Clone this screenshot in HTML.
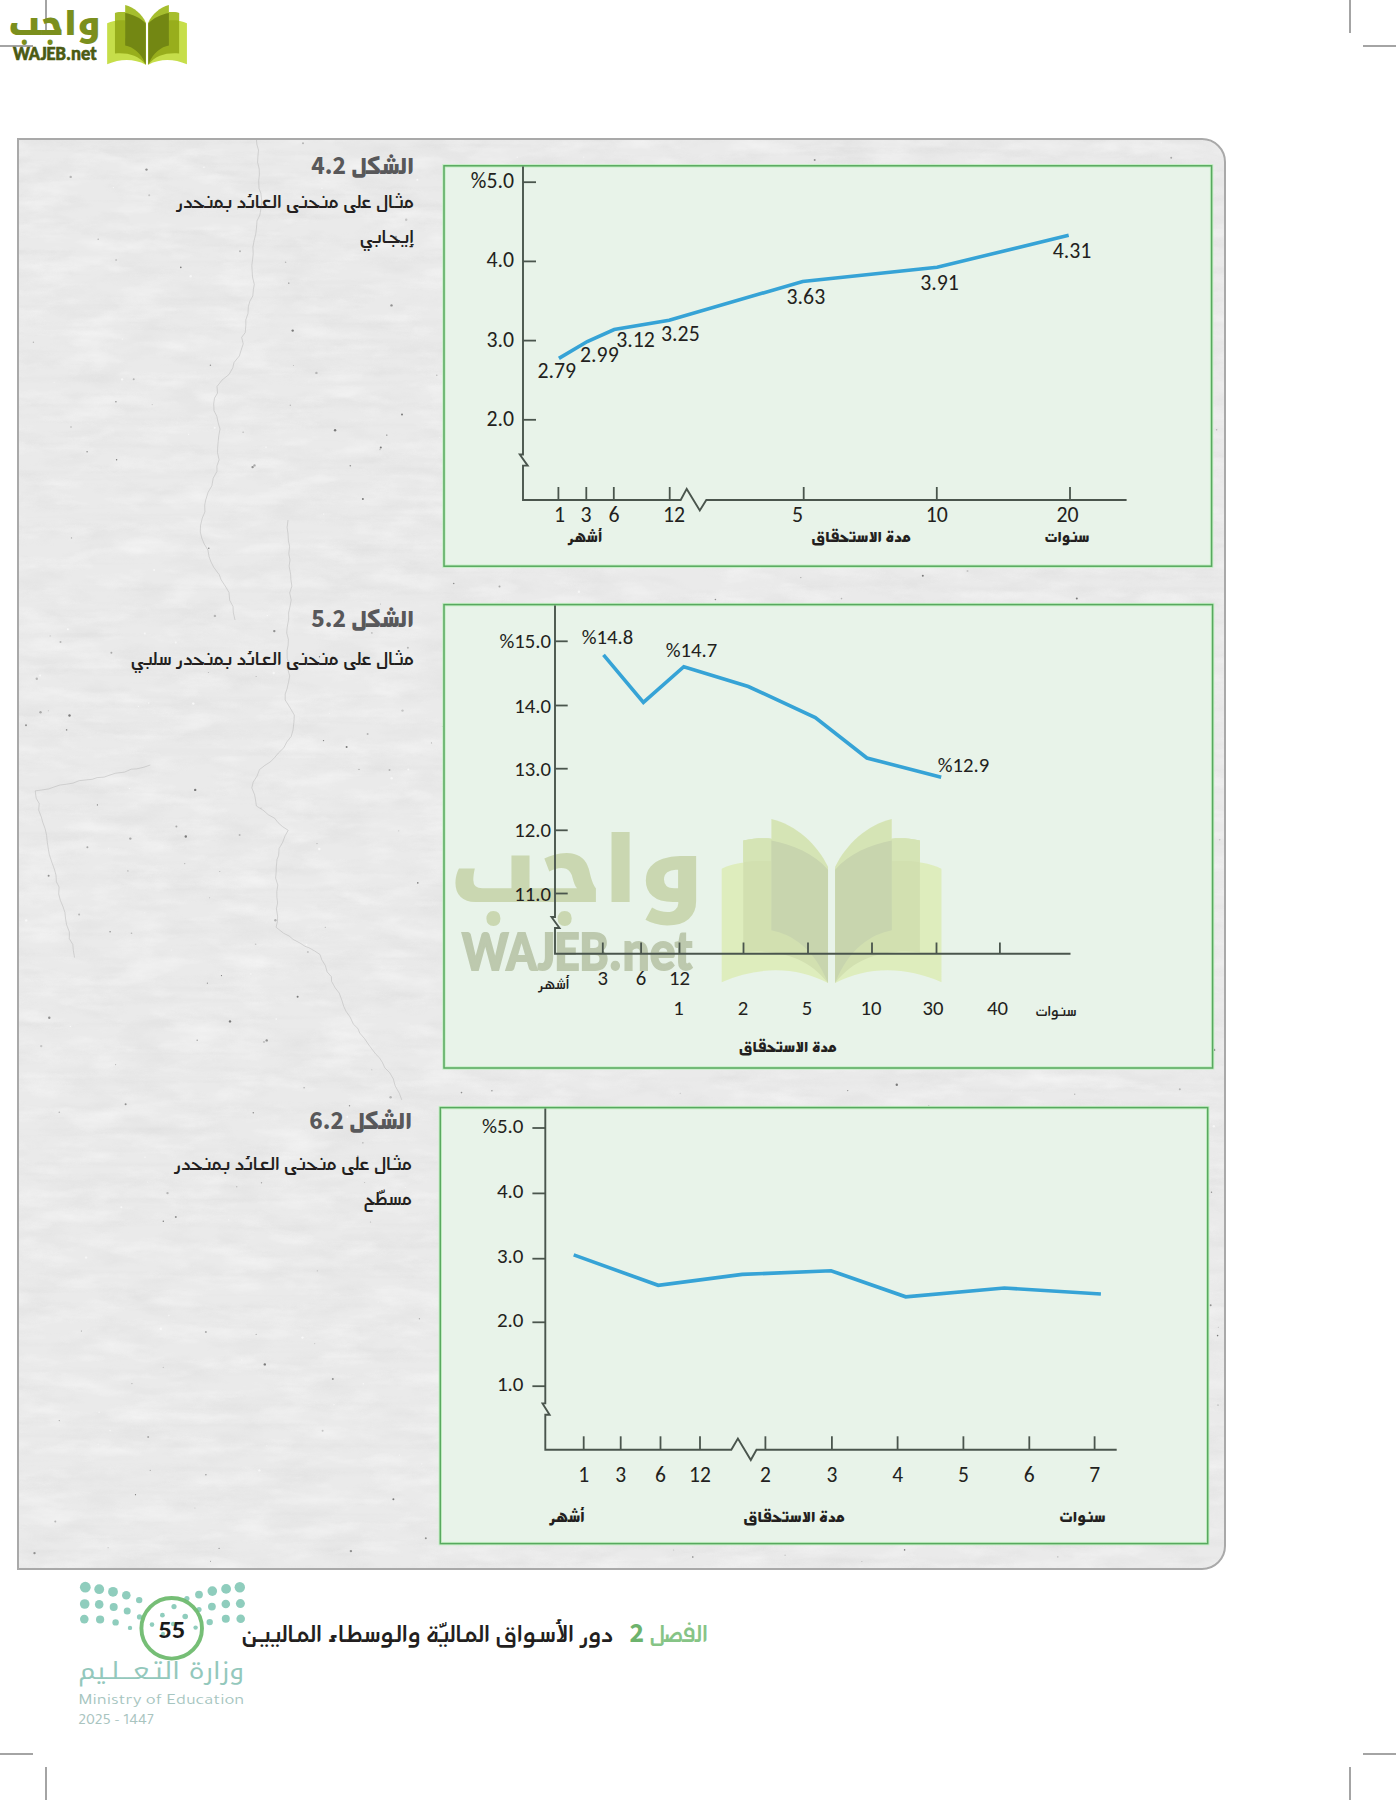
<!DOCTYPE html>
<html lang="ar"><head><meta charset="utf-8"><title>الشكل 4.2</title>
<style>
html,body{margin:0;padding:0;background:#fff;}
body{width:1396px;height:1800px;position:relative;overflow:hidden;}
.abs{position:absolute;}
.crop{position:absolute;background:#a4a4a4;}
.panel{position:absolute;left:17px;top:138px;width:1205px;height:1428px;border:2px solid #a9a9a9;border-radius:0 24px 24px 0;background:#eaeaea;overflow:hidden;}
.cap{position:absolute;right:0;font-family:'Mada','Noto Sans Arabic','DejaVu Sans',sans-serif;direction:rtl;text-align:right;color:#231f20;white-space:nowrap;}
.capt{font-weight:700;color:#58585a;font-size:25.5px;}
.capb{font-size:21.6px;line-height:35px;font-weight:500;}
.foot{position:absolute;font-family:'Mada','Noto Sans Arabic','DejaVu Sans',sans-serif;direction:rtl;white-space:nowrap;}
</style></head><body>
<!-- crop marks -->
<div class="crop" style="left:45px;top:0;width:2px;height:33px"></div>
<div class="crop" style="left:0;top:45px;width:33px;height:2px"></div>
<div class="crop" style="left:1349px;top:0;width:2px;height:33px"></div>
<div class="crop" style="left:1363px;top:45px;width:33px;height:2px"></div>
<div class="crop" style="left:0;top:1753px;width:33px;height:2px"></div>
<div class="crop" style="left:45px;top:1767px;width:2px;height:33px"></div>
<div class="crop" style="left:1363px;top:1753px;width:33px;height:2px"></div>
<div class="crop" style="left:1349px;top:1767px;width:2px;height:33px"></div>

<div class="panel">
<svg width="1205" height="1428" style="position:absolute;left:0;top:0">
<filter id="tex" x="0" y="0" width="100%" height="100%">
<feTurbulence type="fractalNoise" baseFrequency="0.02 0.055" numOctaves="5" seed="7"/>
<feColorMatrix type="matrix" values="0 0 0 0 0.45  0 0 0 0 0.45  0 0 0 0 0.45  1.6 0 0 0 -0.72" />
</filter>
<filter id="tex2" x="0" y="0" width="100%" height="100%">
<feTurbulence type="fractalNoise" baseFrequency="0.02 0.06" numOctaves="4" seed="3"/>
<feColorMatrix type="matrix" values="0 0 0 0 1  0 0 0 0 1  0 0 0 0 1  0 1.6 0 0 -0.75" />
</filter>
<rect width="1205" height="1428" filter="url(#tex)" opacity="0.14"/>
<filter id="tex3" x="0" y="0" width="100%" height="100%">
<feTurbulence type="fractalNoise" baseFrequency="0.004 0.11" numOctaves="3" seed="5"/>
<feColorMatrix type="matrix" values="0 0 0 0 0.55  0 0 0 0 0.55  0 0 0 0 0.55  0 0 1.8 0 -0.95" />
</filter>
<rect width="1205" height="1428" filter="url(#tex2)" opacity="0.55"/>
<rect width="1205" height="1428" filter="url(#tex3)" opacity="0.14"/>
<polyline points="237.4,-2.0 237.8,4.2 239.5,10.1 238.9,16.4 238.6,22.3 240.2,28.9 240.4,34.4 239.7,40.7 240.0,48.3 241.9,53.5 242.9,62.0 242.0,67.7 240.9,75.0 238.0,80.9 237.4,89.0 236.7,94.2 235.1,100.6 233.9,107.1 234.2,113.9 233.6,119.5 232.8,125.3 233.2,131.7 233.5,137.0 235.3,144.4 234.4,149.5 233.8,156.0 230.9,161.1 229.3,166.8 229.0,173.5 226.8,179.8 226.8,185.6 226.2,192.6 222.7,197.3 224.2,203.9 222.2,210.0 220.4,215.9 215.0,222.5 213.8,227.8 210.1,234.4 203.0,240.1 198.0,246.5 198.5,253.1 195.5,258.1 194.7,263.8 195.0,270.7 197.8,276.2 199.2,282.8 201.0,289.0 199.8,295.5 199.2,301.4 198.7,307.0 198.5,312.7 200.1,319.8 197.9,326.0 198.0,331.3 194.2,338.2 192.9,345.7 189.0,352.5 186.7,360.1 185.7,365.2 185.9,371.9 183.3,378.0 181.5,385.6 181.3,392.0 182.8,398.2 185.2,403.9 188.9,410.0 190.1,416.7 192.0,422.0 194.8,427.4 200.3,434.8 202.1,439.7 207.0,447.3 210.0,452.5 210.7,460.3 214.0,466.5 214.3,472.3 216.0,480.0" fill="none" stroke="#b0b0b0" stroke-width="0.9" opacity="0.5"/>
<polyline points="269.0,380.0 268.1,387.6 269.0,393.7 269.4,400.6 270.6,406.3 269.8,413.8 271.0,420.0 270.1,426.1 271.6,434.0 271.9,439.6 272.9,446.1 270.7,452.9 272.2,460.0 271.2,465.7 269.6,472.9 269.7,479.1 268.2,487.2 267.7,493.0 269.4,499.4 269.1,505.4 268.1,510.4 268.2,518.3 270.4,524.5 269.0,530.0 270.7,535.8 269.5,542.3 268.0,548.9 266.2,554.0 266.2,560.0 271.4,568.3 275.3,575.0 274.9,582.5 274.0,590.1 272.2,596.4 267.7,602.1 264.9,607.7 259.5,612.9 255.6,617.6 251.5,621.8 245.8,625.4 240.4,629.7 238.1,636.0 234.2,642.1 232.8,647.9 235.6,654.7 236.5,659.7 237.4,666.0 244.1,670.2 249.4,674.8 255.6,678.2 259.1,682.7 263.4,686.5 269.2,690.3 266.1,695.8 263.6,702.4 260.1,708.5 259.6,715.4 258.0,719.6 257.3,727.0 257.1,732.7 256.6,738.1 258.8,745.1 257.8,751.7 257.9,757.3 258.6,763.0 257.4,768.9 258.6,776.0 258.5,781.0 257.1,787.3 264.7,793.3 270.1,796.0 274.1,799.4 281.1,803.1 286.0,806.3 290.0,807.8 295.7,811.0 301.0,814.5 302.8,819.9 306.4,825.6 308.1,831.9 312.4,836.7 312.6,841.4 316.2,847.9 320.2,853.0 322.8,860.1 324.8,866.6 327.1,871.4 331.2,877.2 334.4,884.2 338.9,888.5 340.7,893.0 345.6,898.7 349.2,904.0 352.5,908.5 356.9,914.3 360.3,917.6 363.4,922.4 365.8,927.8 370.7,932.7 374.3,938.9 376.2,946.0 380.3,953.2 382.8,960.0" fill="none" stroke="#b0b0b0" stroke-width="0.9" opacity="0.5"/>
<polyline points="131.3,625.0 124.9,627.2 117.6,628.9 112.2,629.2 105.6,632.1 96.8,633.2 91.0,635.0 85.1,637.1 78.2,637.6 73.2,639.3 67.2,639.9 60.1,640.7 54.1,643.1 47.6,644.2 41.0,645.0 34.1,647.3 29.8,648.9 22.5,650.0 16.2,650.9 17.2,658.2 20.2,663.5 19.7,670.1 22.4,677.2 23.7,682.1 26.1,688.7 27.6,695.3 28.3,702.4 29.4,709.5 30.4,714.8 32.9,722.5 35.3,729.0 37.0,735.2 37.4,741.8 40.1,747.0 39.7,754.0 41.4,760.5 43.8,766.1 45.9,772.3 46.5,778.2 47.5,784.5 50.4,792.1 50.3,798.6 53.8,804.5 54.3,810.4 55.6,817.6" fill="none" stroke="#b0b0b0" stroke-width="0.9" opacity="0.5"/>
<circle cx="645.0" cy="718.0" r="1.0" fill="#b5b5b5"/>
<circle cx="36.3" cy="1381.5" r="1.0" fill="#b5b5b5"/>
<circle cx="654.7" cy="1409.9" r="0.5" fill="#b5b5b5"/>
<circle cx="114.7" cy="239.3" r="1.0" fill="#b5b5b5"/>
<circle cx="498.7" cy="1363.6" r="0.8" fill="#a8a8a8"/>
<circle cx="298.0" cy="703.6" r="0.7" fill="#b5b5b5"/>
<circle cx="1082.3" cy="1333.5" r="0.8" fill="#c4c4c4"/>
<circle cx="383.0" cy="274.4" r="1.0" fill="#7a7a7a"/>
<circle cx="1111.5" cy="186.2" r="0.5" fill="#7a7a7a"/>
<circle cx="235.5" cy="325.4" r="1.2" fill="#a8a8a8"/>
<circle cx="388.9" cy="507.7" r="1.0" fill="#b5b5b5"/>
<circle cx="128.7" cy="1042.1" r="0.5" fill="#f8f8f8"/>
<circle cx="614.5" cy="358.5" r="0.6" fill="#f6f6f6"/>
<circle cx="638.4" cy="623.5" r="0.8" fill="#f6f6f6"/>
<circle cx="498.3" cy="755.3" r="0.6" fill="#c4c4c4"/>
<circle cx="247.7" cy="900.4" r="1.2" fill="#909090"/>
<circle cx="637.5" cy="1213.3" r="1.0" fill="#c4c4c4"/>
<circle cx="1029.4" cy="333.1" r="1.2" fill="#f6f6f6"/>
<circle cx="974.0" cy="1286.5" r="0.7" fill="#c4c4c4"/>
<circle cx="380.4" cy="1315.1" r="0.6" fill="#f8f8f8"/>
<circle cx="1199.0" cy="1265.0" r="0.6" fill="#909090"/>
<circle cx="161.8" cy="127.4" r="0.8" fill="#7a7a7a"/>
<circle cx="523.9" cy="1341.3" r="1.0" fill="#f8f8f8"/>
<circle cx="847.4" cy="287.5" r="1.2" fill="#f6f6f6"/>
<circle cx="960.0" cy="138.7" r="1.0" fill="#f6f6f6"/>
<circle cx="431.4" cy="1170.2" r="0.7" fill="#7a7a7a"/>
<circle cx="847.2" cy="905.1" r="0.7" fill="#c4c4c4"/>
<circle cx="1199.3" cy="1187.3" r="0.5" fill="#b5b5b5"/>
<circle cx="130.2" cy="55.3" r="1.0" fill="#c4c4c4"/>
<circle cx="619.8" cy="811.3" r="0.6" fill="#909090"/>
<circle cx="224.1" cy="292.2" r="0.6" fill="#a8a8a8"/>
<circle cx="1113.4" cy="137.5" r="0.5" fill="#909090"/>
<circle cx="1142.9" cy="659.5" r="0.5" fill="#a8a8a8"/>
<circle cx="471.3" cy="608.8" r="0.7" fill="#b5b5b5"/>
<circle cx="254.7" cy="533.0" r="1.2" fill="#f6f6f6"/>
<circle cx="52.0" cy="287.0" r="0.8" fill="#b5b5b5"/>
<circle cx="433.8" cy="528.8" r="0.6" fill="#c4c4c4"/>
<circle cx="200.8" cy="731.4" r="0.5" fill="#a8a8a8"/>
<circle cx="1073.0" cy="1142.8" r="1.2" fill="#f8f8f8"/>
<circle cx="1091.7" cy="1339.0" r="1.0" fill="#c4c4c4"/>
<circle cx="231.8" cy="833.9" r="0.7" fill="#f8f8f8"/>
<circle cx="916.3" cy="399.8" r="0.5" fill="#f6f6f6"/>
<circle cx="893.1" cy="229.7" r="0.8" fill="#909090"/>
<circle cx="1077.1" cy="1254.0" r="1.2" fill="#a8a8a8"/>
<circle cx="922.2" cy="1090.9" r="0.8" fill="#909090"/>
<circle cx="868.7" cy="102.4" r="0.7" fill="#a8a8a8"/>
<circle cx="564.7" cy="17.1" r="0.7" fill="#f6f6f6"/>
<circle cx="1084.4" cy="72.5" r="0.7" fill="#f6f6f6"/>
<circle cx="361.0" cy="309.4" r="0.8" fill="#c4c4c4"/>
<circle cx="221.0" cy="111.3" r="1.0" fill="#b5b5b5"/>
<circle cx="772.4" cy="999.9" r="0.8" fill="#c4c4c4"/>
<circle cx="30.3" cy="877.7" r="1.2" fill="#909090"/>
<circle cx="310.4" cy="573.4" r="0.5" fill="#f8f8f8"/>
<circle cx="237.1" cy="536.6" r="0.5" fill="#a8a8a8"/>
<circle cx="303.6" cy="1290.7" r="1.0" fill="#c4c4c4"/>
<circle cx="611.4" cy="1378.2" r="1.0" fill="#f8f8f8"/>
<circle cx="1195.1" cy="909.9" r="1.2" fill="#7a7a7a"/>
<circle cx="661.2" cy="953.2" r="0.5" fill="#b5b5b5"/>
<circle cx="1117.3" cy="229.6" r="0.8" fill="#909090"/>
<circle cx="1028.1" cy="773.2" r="1.0" fill="#7a7a7a"/>
<circle cx="517.6" cy="705.7" r="0.7" fill="#c4c4c4"/>
<circle cx="480.5" cy="446.5" r="1.0" fill="#a8a8a8"/>
<circle cx="581.9" cy="385.9" r="0.7" fill="#f6f6f6"/>
<circle cx="861.5" cy="423.3" r="0.5" fill="#f8f8f8"/>
<circle cx="296.5" cy="62.9" r="0.6" fill="#b5b5b5"/>
<circle cx="907.1" cy="556.9" r="0.7" fill="#f6f6f6"/>
<circle cx="479.5" cy="829.8" r="1.2" fill="#a8a8a8"/>
<circle cx="91.1" cy="1290.6" r="0.8" fill="#f6f6f6"/>
<circle cx="575.2" cy="1386.8" r="0.6" fill="#7a7a7a"/>
<circle cx="630.0" cy="1335.7" r="1.2" fill="#b5b5b5"/>
<circle cx="175.9" cy="1368.0" r="0.6" fill="#c4c4c4"/>
<circle cx="849.3" cy="73.7" r="0.8" fill="#b5b5b5"/>
<circle cx="144.3" cy="1227.4" r="0.7" fill="#c4c4c4"/>
<circle cx="188.4" cy="519.0" r="0.6" fill="#f6f6f6"/>
<circle cx="502.5" cy="857.3" r="1.2" fill="#c4c4c4"/>
<circle cx="820.0" cy="520.0" r="1.2" fill="#c4c4c4"/>
<circle cx="979.5" cy="196.9" r="0.7" fill="#f6f6f6"/>
<circle cx="157.4" cy="686.6" r="1.0" fill="#a8a8a8"/>
<circle cx="942.6" cy="891.3" r="0.7" fill="#a8a8a8"/>
<circle cx="328.3" cy="976.8" r="1.0" fill="#f6f6f6"/>
<circle cx="711.8" cy="902.9" r="0.6" fill="#909090"/>
<circle cx="1143.4" cy="716.6" r="1.2" fill="#909090"/>
<circle cx="1055.8" cy="58.2" r="0.5" fill="#7a7a7a"/>
<circle cx="327.6" cy="607.0" r="1.0" fill="#7a7a7a"/>
<circle cx="125.8" cy="772.8" r="0.5" fill="#f8f8f8"/>
<circle cx="106.6" cy="964.3" r="1.0" fill="#909090"/>
<circle cx="759.1" cy="533.0" r="0.8" fill="#a8a8a8"/>
<circle cx="255.3" cy="491.1" r="1.2" fill="#909090"/>
<circle cx="1007.6" cy="107.8" r="0.5" fill="#b5b5b5"/>
<circle cx="972.4" cy="889.6" r="0.6" fill="#b5b5b5"/>
<circle cx="511.4" cy="369.2" r="0.6" fill="#a8a8a8"/>
<circle cx="186.9" cy="1192.1" r="1.0" fill="#a8a8a8"/>
<circle cx="351.5" cy="1082.0" r="0.6" fill="#b5b5b5"/>
<circle cx="786.3" cy="828.2" r="0.8" fill="#a8a8a8"/>
<circle cx="97.1" cy="120.1" r="1.0" fill="#c4c4c4"/>
<circle cx="583.9" cy="977.2" r="0.7" fill="#f8f8f8"/>
<circle cx="932.1" cy="110.3" r="0.6" fill="#f6f6f6"/>
<circle cx="726.3" cy="991.1" r="0.8" fill="#f6f6f6"/>
<circle cx="918.5" cy="468.7" r="0.6" fill="#909090"/>
<circle cx="431.6" cy="1035.1" r="0.7" fill="#7a7a7a"/>
<circle cx="389.3" cy="629.5" r="1.0" fill="#f6f6f6"/>
<circle cx="1097.2" cy="625.3" r="0.7" fill="#b5b5b5"/>
<circle cx="383.5" cy="570.6" r="1.2" fill="#c4c4c4"/>
<circle cx="300.5" cy="516.7" r="0.7" fill="#7a7a7a"/>
<circle cx="438.2" cy="565.0" r="0.8" fill="#f8f8f8"/>
<circle cx="236.6" cy="804.3" r="0.8" fill="#c4c4c4"/>
<circle cx="188.4" cy="843.2" r="0.6" fill="#909090"/>
<circle cx="110.5" cy="648.6" r="0.7" fill="#f8f8f8"/>
<circle cx="29.6" cy="735.8" r="1.0" fill="#909090"/>
<circle cx="682.8" cy="1377.2" r="1.2" fill="#f8f8f8"/>
<circle cx="966.6" cy="93.2" r="1.0" fill="#a8a8a8"/>
<circle cx="947.1" cy="121.6" r="0.5" fill="#a8a8a8"/>
<circle cx="886.0" cy="1281.4" r="0.5" fill="#7a7a7a"/>
<circle cx="762.7" cy="206.7" r="1.2" fill="#f8f8f8"/>
<circle cx="780.5" cy="351.3" r="0.6" fill="#b5b5b5"/>
<circle cx="919.9" cy="744.2" r="0.8" fill="#b5b5b5"/>
<circle cx="422.8" cy="1150.8" r="0.7" fill="#f6f6f6"/>
<circle cx="166.8" cy="696.5" r="1.2" fill="#7a7a7a"/>
<circle cx="851.4" cy="1304.0" r="0.8" fill="#f8f8f8"/>
<circle cx="992.8" cy="950.8" r="0.5" fill="#f8f8f8"/>
<circle cx="455.8" cy="129.0" r="0.8" fill="#c4c4c4"/>
<circle cx="770.0" cy="747.4" r="1.2" fill="#7a7a7a"/>
<circle cx="964.1" cy="602.0" r="0.8" fill="#909090"/>
<circle cx="297.4" cy="232.9" r="1.2" fill="#b5b5b5"/>
<circle cx="822.5" cy="458.6" r="0.8" fill="#b5b5b5"/>
<circle cx="636.8" cy="392.0" r="0.5" fill="#b5b5b5"/>
<circle cx="372.5" cy="165.4" r="1.2" fill="#909090"/>
<circle cx="932.6" cy="257.3" r="0.5" fill="#f8f8f8"/>
<circle cx="552.6" cy="833.1" r="0.5" fill="#a8a8a8"/>
<circle cx="133.2" cy="264.6" r="0.6" fill="#c4c4c4"/>
<circle cx="285.0" cy="1022.6" r="1.0" fill="#c4c4c4"/>
<circle cx="271.3" cy="265.2" r="0.7" fill="#b5b5b5"/>
<circle cx="209.7" cy="1079.9" r="0.7" fill="#f6f6f6"/>
<circle cx="659.8" cy="1164.8" r="0.8" fill="#f8f8f8"/>
<circle cx="315.0" cy="1264.8" r="0.7" fill="#f6f6f6"/>
<circle cx="658.7" cy="1363.8" r="0.8" fill="#f8f8f8"/>
<circle cx="267.8" cy="72.7" r="0.6" fill="#f8f8f8"/>
<circle cx="959.3" cy="1390.9" r="1.0" fill="#f8f8f8"/>
<circle cx="331.9" cy="1411.1" r="1.2" fill="#909090"/>
<circle cx="1071.9" cy="1245.8" r="0.7" fill="#b5b5b5"/>
<circle cx="957.5" cy="1017.0" r="1.0" fill="#f8f8f8"/>
<circle cx="191.4" cy="225.3" r="0.7" fill="#909090"/>
<circle cx="313.8" cy="1238.9" r="1.0" fill="#909090"/>
<circle cx="766.1" cy="1415.2" r="0.7" fill="#c4c4c4"/>
<circle cx="643.4" cy="216.4" r="0.6" fill="#7a7a7a"/>
<circle cx="247.8" cy="1305.8" r="0.6" fill="#f8f8f8"/>
<circle cx="156.8" cy="502.5" r="1.0" fill="#f6f6f6"/>
<circle cx="635.5" cy="1268.0" r="1.2" fill="#b5b5b5"/>
<circle cx="102.3" cy="1067.3" r="1.0" fill="#f8f8f8"/>
<circle cx="609.2" cy="29.1" r="0.6" fill="#b5b5b5"/>
<circle cx="234.3" cy="972.8" r="0.8" fill="#909090"/>
<circle cx="47.6" cy="589.9" r="0.8" fill="#909090"/>
<circle cx="1137.0" cy="1373.7" r="0.7" fill="#a8a8a8"/>
<circle cx="488.7" cy="793.7" r="0.8" fill="#f6f6f6"/>
<circle cx="859.7" cy="513.9" r="1.2" fill="#909090"/>
<circle cx="129.7" cy="563.0" r="0.8" fill="#f6f6f6"/>
<circle cx="1161.4" cy="1182.7" r="1.2" fill="#b5b5b5"/>
<circle cx="17.8" cy="538.7" r="1.2" fill="#b5b5b5"/>
<circle cx="287.5" cy="804.7" r="0.8" fill="#f8f8f8"/>
<circle cx="15.5" cy="1413.1" r="1.2" fill="#909090"/>
<circle cx="1083.0" cy="218.5" r="1.2" fill="#b5b5b5"/>
<circle cx="1126.1" cy="1068.9" r="0.7" fill="#f8f8f8"/>
<circle cx="472.9" cy="950.7" r="0.7" fill="#909090"/>
<circle cx="242.5" cy="1042.8" r="0.7" fill="#a8a8a8"/>
<circle cx="1135.2" cy="802.9" r="1.2" fill="#f6f6f6"/>
<circle cx="400.3" cy="1178.7" r="0.5" fill="#7a7a7a"/>
<circle cx="171.7" cy="136.3" r="1.2" fill="#f6f6f6"/>
<circle cx="851.5" cy="258.0" r="0.8" fill="#7a7a7a"/>
<circle cx="1005.6" cy="845.5" r="0.5" fill="#7a7a7a"/>
<circle cx="274.4" cy="225.5" r="0.5" fill="#b5b5b5"/>
<circle cx="490.4" cy="105.4" r="0.8" fill="#c4c4c4"/>
<circle cx="169.6" cy="294.4" r="0.6" fill="#f8f8f8"/>
<circle cx="831.2" cy="688.9" r="0.8" fill="#c4c4c4"/>
<circle cx="21.5" cy="572.2" r="1.2" fill="#a8a8a8"/>
<circle cx="1179.4" cy="1125.7" r="1.2" fill="#c4c4c4"/>
<circle cx="637.8" cy="373.0" r="0.6" fill="#a8a8a8"/>
<circle cx="370.5" cy="629.9" r="1.0" fill="#b5b5b5"/>
<circle cx="248.4" cy="475.5" r="0.7" fill="#f8f8f8"/>
<circle cx="126.0" cy="1017.2" r="0.7" fill="#f8f8f8"/>
<circle cx="648.5" cy="426.7" r="0.6" fill="#a8a8a8"/>
<circle cx="736.2" cy="732.6" r="1.0" fill="#f6f6f6"/>
<circle cx="240.4" cy="1330.4" r="1.2" fill="#f6f6f6"/>
<circle cx="1004.0" cy="282.6" r="0.5" fill="#f6f6f6"/>
<circle cx="793.0" cy="1107.1" r="0.6" fill="#909090"/>
<circle cx="575.5" cy="596.1" r="0.7" fill="#a8a8a8"/>
<circle cx="112.9" cy="1243.6" r="0.7" fill="#b5b5b5"/>
<circle cx="1060.8" cy="645.6" r="1.2" fill="#909090"/>
<circle cx="288.9" cy="812.1" r="1.0" fill="#c4c4c4"/>
<circle cx="79.2" cy="1304.2" r="0.6" fill="#f6f6f6"/>
<circle cx="1191.6" cy="1165.3" r="1.0" fill="#909090"/>
<circle cx="149.9" cy="1175.5" r="0.7" fill="#f6f6f6"/>
<circle cx="1077.6" cy="344.7" r="1.0" fill="#a8a8a8"/>
<circle cx="998.2" cy="266.1" r="1.0" fill="#f8f8f8"/>
<circle cx="94.4" cy="47.6" r="0.6" fill="#f8f8f8"/>
<circle cx="1185.4" cy="1338.8" r="1.2" fill="#909090"/>
<circle cx="371.6" cy="957.2" r="1.2" fill="#b5b5b5"/>
<circle cx="740.0" cy="913.2" r="0.5" fill="#909090"/>
<circle cx="242.0" cy="668.0" r="0.6" fill="#c4c4c4"/>
<circle cx="465.9" cy="812.4" r="0.6" fill="#a8a8a8"/>
<circle cx="625.7" cy="377.2" r="1.0" fill="#a8a8a8"/>
<circle cx="67.1" cy="1117.6" r="1.2" fill="#f6f6f6"/>
<circle cx="946.4" cy="575.7" r="0.8" fill="#c4c4c4"/>
<circle cx="125.8" cy="493.6" r="1.0" fill="#f6f6f6"/>
<circle cx="679.6" cy="581.1" r="0.7" fill="#b5b5b5"/>
<circle cx="1068.2" cy="661.6" r="1.2" fill="#b5b5b5"/>
<circle cx="991.5" cy="169.0" r="0.5" fill="#c4c4c4"/>
<circle cx="398.8" cy="742.9" r="0.8" fill="#7a7a7a"/>
<circle cx="387.2" cy="79.8" r="1.2" fill="#c4c4c4"/>
<circle cx="1081.4" cy="1043.6" r="1.0" fill="#a8a8a8"/>
<circle cx="903.8" cy="435.7" r="1.0" fill="#7a7a7a"/>
<circle cx="295.7" cy="1203.6" r="0.6" fill="#c4c4c4"/>
<circle cx="1048.9" cy="1385.9" r="0.8" fill="#f6f6f6"/>
<circle cx="129.2" cy="1296.9" r="1.0" fill="#a8a8a8"/>
<circle cx="789.9" cy="1340.0" r="0.5" fill="#f6f6f6"/>
<circle cx="1160.8" cy="949.3" r="1.0" fill="#b5b5b5"/>
<circle cx="678.6" cy="235.5" r="1.2" fill="#f6f6f6"/>
<circle cx="508.0" cy="176.6" r="0.5" fill="#7a7a7a"/>
<circle cx="625.5" cy="186.9" r="1.0" fill="#c4c4c4"/>
<circle cx="1142.3" cy="2.8" r="0.6" fill="#f6f6f6"/>
<circle cx="361.5" cy="464.1" r="0.5" fill="#b5b5b5"/>
<circle cx="1075.4" cy="1162.4" r="0.8" fill="#909090"/>
<circle cx="430.1" cy="835.2" r="0.5" fill="#a8a8a8"/>
<circle cx="40.3" cy="1280.6" r="0.7" fill="#a8a8a8"/>
<circle cx="600.1" cy="1331.0" r="0.8" fill="#909090"/>
<circle cx="245.8" cy="1224.4" r="1.2" fill="#7a7a7a"/>
<circle cx="237.2" cy="1194.4" r="0.7" fill="#b5b5b5"/>
<circle cx="22.2" cy="906.1" r="1.2" fill="#c4c4c4"/>
<circle cx="245.0" cy="901.9" r="0.6" fill="#7a7a7a"/>
<circle cx="781.8" cy="437.6" r="0.7" fill="#a8a8a8"/>
<circle cx="1044.8" cy="1016.8" r="0.6" fill="#a8a8a8"/>
<circle cx="836.7" cy="1336.5" r="0.8" fill="#b5b5b5"/>
<circle cx="97.6" cy="319.7" r="0.7" fill="#7a7a7a"/>
<circle cx="854.2" cy="281.6" r="0.6" fill="#f6f6f6"/>
<circle cx="285.1" cy="947.7" r="0.7" fill="#a8a8a8"/>
<circle cx="965.9" cy="748.2" r="0.5" fill="#c4c4c4"/>
<circle cx="621.1" cy="1392.5" r="0.6" fill="#f6f6f6"/>
<circle cx="273.7" cy="190.6" r="1.2" fill="#7a7a7a"/>
<circle cx="557.3" cy="110.5" r="1.0" fill="#7a7a7a"/>
<circle cx="638.9" cy="66.5" r="1.0" fill="#c4c4c4"/>
<circle cx="343.9" cy="359.0" r="1.0" fill="#7a7a7a"/>
<circle cx="200.1" cy="1408.4" r="0.6" fill="#909090"/>
<circle cx="217.8" cy="1046.7" r="0.5" fill="#909090"/>
<circle cx="949.9" cy="216.5" r="0.5" fill="#c4c4c4"/>
<circle cx="556.0" cy="1070.1" r="0.8" fill="#7a7a7a"/>
<circle cx="1116.3" cy="713.4" r="0.6" fill="#7a7a7a"/>
<circle cx="669.1" cy="919.8" r="0.7" fill="#a8a8a8"/>
<circle cx="791.6" cy="1116.2" r="1.0" fill="#a8a8a8"/>
<circle cx="608.7" cy="1205.0" r="1.2" fill="#c4c4c4"/>
<circle cx="894.7" cy="758.6" r="1.0" fill="#f8f8f8"/>
<circle cx="926.9" cy="161.5" r="0.8" fill="#909090"/>
<circle cx="803.8" cy="781.6" r="0.7" fill="#f8f8f8"/>
<circle cx="860.9" cy="1028.8" r="0.7" fill="#b5b5b5"/>
<circle cx="654.9" cy="1215.3" r="1.0" fill="#b5b5b5"/>
<circle cx="316.1" cy="290.2" r="1.2" fill="#7a7a7a"/>
<circle cx="689.0" cy="1244.1" r="0.6" fill="#a8a8a8"/>
<circle cx="184.9" cy="27.3" r="0.8" fill="#f8f8f8"/>
<circle cx="523.7" cy="630.5" r="0.7" fill="#f8f8f8"/>
<circle cx="959.6" cy="105.2" r="0.6" fill="#c4c4c4"/>
<circle cx="769.6" cy="826.6" r="1.2" fill="#909090"/>
<circle cx="749.6" cy="78.8" r="0.8" fill="#7a7a7a"/>
<circle cx="836.4" cy="1168.4" r="1.2" fill="#c4c4c4"/>
<circle cx="938.3" cy="1091.0" r="0.8" fill="#7a7a7a"/>
<circle cx="781.8" cy="728.5" r="0.8" fill="#a8a8a8"/>
<circle cx="300.3" cy="709.0" r="1.2" fill="#f8f8f8"/>
<circle cx="716.9" cy="648.8" r="0.7" fill="#b5b5b5"/>
<circle cx="562.3" cy="996.2" r="1.2" fill="#7a7a7a"/>
<circle cx="156.8" cy="1076.9" r="1.0" fill="#909090"/>
<circle cx="176.2" cy="649.9" r="1.2" fill="#7a7a7a"/>
<circle cx="7.0" cy="585.2" r="1.0" fill="#909090"/>
<circle cx="112.5" cy="793.3" r="0.8" fill="#b5b5b5"/>
<circle cx="1123.8" cy="1384.6" r="1.2" fill="#f6f6f6"/>
<circle cx="917.4" cy="1046.6" r="0.6" fill="#a8a8a8"/>
<circle cx="306.3" cy="787.3" r="0.6" fill="#b5b5b5"/>
<circle cx="555.9" cy="1328.9" r="0.7" fill="#a8a8a8"/>
<circle cx="406.8" cy="1398.3" r="1.0" fill="#909090"/>
<circle cx="50.5" cy="575.5" r="1.2" fill="#7a7a7a"/>
<circle cx="886.4" cy="809.4" r="1.0" fill="#909090"/>
<circle cx="557.2" cy="561.1" r="0.6" fill="#b5b5b5"/>
<circle cx="456.7" cy="72.1" r="0.8" fill="#a8a8a8"/>
<circle cx="298.3" cy="1130.8" r="0.6" fill="#b5b5b5"/>
<circle cx="247.0" cy="307.2" r="0.8" fill="#f8f8f8"/>
<circle cx="372.6" cy="638.2" r="1.2" fill="#f6f6f6"/>
<circle cx="220.6" cy="695.1" r="1.0" fill="#b5b5b5"/>
<circle cx="505.2" cy="69.1" r="0.7" fill="#a8a8a8"/>
<circle cx="1139.6" cy="885.6" r="1.0" fill="#909090"/>
<circle cx="891.5" cy="730.8" r="1.0" fill="#f6f6f6"/>
<circle cx="859.8" cy="384.2" r="0.7" fill="#7a7a7a"/>
<circle cx="186.9" cy="1334.8" r="0.7" fill="#909090"/>
<circle cx="920.3" cy="1031.5" r="0.5" fill="#7a7a7a"/>
<circle cx="1198.6" cy="1195.6" r="0.8" fill="#7a7a7a"/>
<circle cx="1026.7" cy="544.7" r="0.7" fill="#f8f8f8"/>
<circle cx="1055.7" cy="954.3" r="0.7" fill="#b5b5b5"/>
<circle cx="731.3" cy="697.0" r="0.6" fill="#909090"/>
<circle cx="618.7" cy="183.6" r="0.6" fill="#a8a8a8"/>
<circle cx="495.0" cy="683.1" r="1.2" fill="#909090"/>
<circle cx="622.3" cy="782.0" r="0.7" fill="#f6f6f6"/>
<circle cx="544.1" cy="538.5" r="0.6" fill="#f8f8f8"/>
<circle cx="338.9" cy="1016.3" r="0.8" fill="#909090"/>
<circle cx="466.0" cy="1234.3" r="0.6" fill="#7a7a7a"/>
<circle cx="352.9" cy="492.9" r="0.6" fill="#909090"/>
<circle cx="51.7" cy="36.9" r="1.2" fill="#b5b5b5"/>
<circle cx="681.0" cy="1152.9" r="1.2" fill="#a8a8a8"/>
<circle cx="794.2" cy="97.2" r="0.6" fill="#c4c4c4"/>
<circle cx="828.7" cy="950.6" r="0.7" fill="#909090"/>
<circle cx="941.4" cy="371.4" r="0.8" fill="#7a7a7a"/>
<circle cx="473.1" cy="87.5" r="0.8" fill="#a8a8a8"/>
<circle cx="343.9" cy="1002.8" r="0.6" fill="#909090"/>
<circle cx="1111.7" cy="289.3" r="0.6" fill="#a8a8a8"/>
<circle cx="799.9" cy="343.2" r="0.5" fill="#f6f6f6"/>
<circle cx="412.5" cy="602.9" r="0.6" fill="#b5b5b5"/>
<circle cx="701.0" cy="1000.1" r="1.0" fill="#a8a8a8"/>
<circle cx="841.8" cy="34.8" r="0.8" fill="#7a7a7a"/>
<circle cx="439.4" cy="91.6" r="0.8" fill="#a8a8a8"/>
<circle cx="68.4" cy="707.2" r="1.0" fill="#a8a8a8"/>
<circle cx="564.8" cy="465.2" r="0.7" fill="#7a7a7a"/>
<circle cx="31.2" cy="495.9" r="0.7" fill="#c4c4c4"/>
<circle cx="359.2" cy="1162.0" r="0.6" fill="#f6f6f6"/>
<circle cx="565.2" cy="877.5" r="0.7" fill="#7a7a7a"/>
<circle cx="693.3" cy="1343.0" r="0.5" fill="#f6f6f6"/>
<circle cx="60.1" cy="774.5" r="1.0" fill="#b5b5b5"/>
<circle cx="79.2" cy="99.2" r="0.8" fill="#b5b5b5"/>
<circle cx="460.5" cy="1296.4" r="0.5" fill="#f8f8f8"/>
<circle cx="165.7" cy="723.6" r="0.7" fill="#b5b5b5"/>
<circle cx="434.8" cy="1392.2" r="0.6" fill="#c4c4c4"/>
<circle cx="233.6" cy="327.1" r="1.2" fill="#909090"/>
<circle cx="284.0" cy="3.3" r="1.0" fill="#b5b5b5"/>
<circle cx="7.2" cy="780.4" r="1.2" fill="#f8f8f8"/>
<circle cx="659.7" cy="890.5" r="1.0" fill="#f8f8f8"/>
<circle cx="830.9" cy="1135.5" r="0.7" fill="#a8a8a8"/>
<circle cx="127.5" cy="29.6" r="1.2" fill="#909090"/>
<circle cx="836.1" cy="979.0" r="0.6" fill="#f8f8f8"/>
<circle cx="195.9" cy="475.9" r="1.2" fill="#b5b5b5"/>
<circle cx="967.4" cy="419.9" r="0.8" fill="#a8a8a8"/>
<circle cx="442.5" cy="952.6" r="0.8" fill="#909090"/>
<circle cx="777.2" cy="517.4" r="1.2" fill="#909090"/>
<circle cx="1102.1" cy="1051.5" r="0.5" fill="#7a7a7a"/>
<circle cx="982.8" cy="1262.2" r="0.7" fill="#7a7a7a"/>
<circle cx="1020.0" cy="731.1" r="1.2" fill="#b5b5b5"/>
<circle cx="51.4" cy="886.5" r="0.8" fill="#f8f8f8"/>
<circle cx="580.4" cy="492.4" r="0.8" fill="#c4c4c4"/>
<circle cx="888.9" cy="989.3" r="0.7" fill="#f6f6f6"/>
<circle cx="763.5" cy="525.3" r="1.2" fill="#a8a8a8"/>
<circle cx="222.9" cy="1220.1" r="0.6" fill="#f8f8f8"/>
<circle cx="678.3" cy="186.1" r="0.8" fill="#f6f6f6"/>
<circle cx="849.9" cy="888.5" r="0.7" fill="#f8f8f8"/>
<circle cx="195.7" cy="287.8" r="1.0" fill="#f6f6f6"/>
<circle cx="352.8" cy="929.8" r="0.5" fill="#b5b5b5"/>
<circle cx="704.5" cy="1341.0" r="0.6" fill="#a8a8a8"/>
<circle cx="826.7" cy="598.7" r="1.2" fill="#f6f6f6"/>
<circle cx="478.3" cy="1330.2" r="0.6" fill="#7a7a7a"/>
<circle cx="191.5" cy="1421.2" r="0.5" fill="#909090"/>
<circle cx="345.7" cy="1042.6" r="0.5" fill="#b5b5b5"/>
<circle cx="398.4" cy="39.7" r="1.0" fill="#f8f8f8"/>
<circle cx="581.7" cy="533.4" r="0.7" fill="#b5b5b5"/>
<circle cx="962.0" cy="1195.5" r="0.7" fill="#909090"/>
<circle cx="472.2" cy="881.1" r="0.6" fill="#c4c4c4"/>
<circle cx="469.4" cy="989.6" r="1.0" fill="#a8a8a8"/>
<circle cx="961.6" cy="211.0" r="0.6" fill="#f8f8f8"/>
<circle cx="131.3" cy="1330.4" r="0.7" fill="#b5b5b5"/>
<circle cx="521.3" cy="218.1" r="0.5" fill="#a8a8a8"/>
<circle cx="681.0" cy="206.4" r="1.2" fill="#b5b5b5"/>
<circle cx="331.3" cy="325.8" r="0.8" fill="#909090"/>
<circle cx="441.3" cy="371.4" r="0.5" fill="#909090"/>
<circle cx="80.1" cy="1272.2" r="0.7" fill="#f6f6f6"/>
<circle cx="96.9" cy="261.7" r="0.8" fill="#909090"/>
<circle cx="1197.6" cy="289.7" r="0.8" fill="#b5b5b5"/>
<circle cx="41.5" cy="502.0" r="1.0" fill="#b5b5b5"/>
<circle cx="670.7" cy="307.9" r="1.0" fill="#f6f6f6"/>
<circle cx="993.9" cy="361.2" r="0.6" fill="#a8a8a8"/>
<circle cx="1038.8" cy="1416.9" r="0.8" fill="#c4c4c4"/>
<circle cx="1001.8" cy="1033.6" r="0.6" fill="#f8f8f8"/>
<circle cx="35.1" cy="242.3" r="0.5" fill="#f6f6f6"/>
<circle cx="92.4" cy="512.8" r="1.0" fill="#a8a8a8"/>
<circle cx="78.4" cy="664.9" r="0.6" fill="#7a7a7a"/>
<circle cx="1152.2" cy="17.7" r="1.0" fill="#a8a8a8"/>
<circle cx="973.5" cy="1129.4" r="1.2" fill="#b5b5b5"/>
<circle cx="481.3" cy="1144.8" r="1.2" fill="#f8f8f8"/>
<circle cx="964.5" cy="1094.8" r="0.8" fill="#b5b5b5"/>
<circle cx="1009.2" cy="583.3" r="1.0" fill="#7a7a7a"/>
<circle cx="14.4" cy="202.3" r="0.7" fill="#b5b5b5"/>
<circle cx="870.7" cy="722.3" r="0.7" fill="#f8f8f8"/>
<circle cx="1191.8" cy="894.1" r="0.8" fill="#a8a8a8"/>
<circle cx="377.0" cy="96.9" r="1.2" fill="#a8a8a8"/>
<circle cx="714.9" cy="378.6" r="0.6" fill="#f6f6f6"/>
<circle cx="218.7" cy="68.8" r="0.6" fill="#c4c4c4"/>
<circle cx="367.8" cy="295.1" r="0.7" fill="#7a7a7a"/>
<circle cx="189.4" cy="532.5" r="0.6" fill="#b5b5b5"/>
<circle cx="29.3" cy="570.8" r="0.5" fill="#b5b5b5"/>
<circle cx="116.5" cy="1354.7" r="0.6" fill="#7a7a7a"/>
<circle cx="1057.8" cy="458.6" r="1.0" fill="#7a7a7a"/>
<circle cx="696.4" cy="459.5" r="0.8" fill="#909090"/>
<circle cx="601.2" cy="1112.5" r="0.6" fill="#f8f8f8"/>
<circle cx="330.5" cy="965.7" r="0.7" fill="#909090"/>
<circle cx="934.7" cy="749.2" r="0.5" fill="#909090"/>
<circle cx="877.8" cy="944.7" r="1.2" fill="#7a7a7a"/>
<circle cx="257.3" cy="879.0" r="0.8" fill="#f8f8f8"/>
<circle cx="859.0" cy="605.3" r="1.0" fill="#7a7a7a"/>
<circle cx="148.5" cy="1053.1" r="1.2" fill="#b5b5b5"/>
<circle cx="525.5" cy="666.9" r="0.8" fill="#c4c4c4"/>
<circle cx="278.6" cy="856.7" r="1.0" fill="#7a7a7a"/>
<circle cx="620.2" cy="47.8" r="1.2" fill="#b5b5b5"/>
<circle cx="538.3" cy="846.4" r="1.0" fill="#7a7a7a"/>
<circle cx="1119.1" cy="218.2" r="0.8" fill="#a8a8a8"/>
<circle cx="1192.5" cy="1052.2" r="0.7" fill="#909090"/>
<circle cx="885.6" cy="1409.9" r="0.8" fill="#7a7a7a"/>
<circle cx="1042.2" cy="182.3" r="0.8" fill="#7a7a7a"/>
<circle cx="283.5" cy="1197.6" r="1.2" fill="#f8f8f8"/>
<circle cx="1126.4" cy="1182.1" r="0.5" fill="#c4c4c4"/>
<circle cx="304.6" cy="374.1" r="0.6" fill="#f8f8f8"/>
<circle cx="48.9" cy="489.3" r="1.0" fill="#f8f8f8"/>
<circle cx="420.8" cy="297.2" r="0.5" fill="#f8f8f8"/>
<circle cx="514.4" cy="697.9" r="1.2" fill="#909090"/>
<circle cx="91.1" cy="791.8" r="0.8" fill="#909090"/>
<circle cx="89.4" cy="708.7" r="0.5" fill="#f8f8f8"/>
<circle cx="1045.2" cy="1386.2" r="0.5" fill="#f8f8f8"/>
<circle cx="1131.1" cy="1157.0" r="0.6" fill="#7a7a7a"/>
<circle cx="402.8" cy="1323.8" r="0.6" fill="#f8f8f8"/>
<circle cx="348.6" cy="594.0" r="1.0" fill="#b5b5b5"/>
<circle cx="40.3" cy="972.3" r="0.8" fill="#b5b5b5"/>
<circle cx="89.1" cy="1407.7" r="0.6" fill="#c4c4c4"/>
<circle cx="756.8" cy="1249.4" r="1.2" fill="#909090"/>
<circle cx="673.8" cy="1417.0" r="0.8" fill="#7a7a7a"/>
<circle cx="981.2" cy="997.9" r="1.2" fill="#a8a8a8"/>
<circle cx="791.6" cy="298.8" r="0.6" fill="#909090"/>
<circle cx="921.1" cy="246.1" r="1.0" fill="#b5b5b5"/>
<circle cx="52.5" cy="397.9" r="0.7" fill="#a8a8a8"/>
<circle cx="733.8" cy="510.8" r="0.6" fill="#7a7a7a"/>
<circle cx="1194.8" cy="986.2" r="1.2" fill="#f6f6f6"/>
<circle cx="434.7" cy="443.5" r="0.8" fill="#909090"/>
<circle cx="178.2" cy="900.2" r="0.8" fill="#a8a8a8"/>
<circle cx="985.5" cy="584.0" r="0.8" fill="#909090"/>
<circle cx="609.8" cy="1342.0" r="0.7" fill="#c4c4c4"/>
<circle cx="845.9" cy="336.5" r="1.0" fill="#7a7a7a"/>
<circle cx="344.3" cy="1243.8" r="0.7" fill="#f8f8f8"/>
<circle cx="96.6" cy="924.6" r="0.6" fill="#b5b5b5"/>
<circle cx="467.4" cy="1059.7" r="1.0" fill="#909090"/>
<circle cx="540.2" cy="93.3" r="0.8" fill="#a8a8a8"/>
<circle cx="340.0" cy="629.4" r="0.7" fill="#a8a8a8"/>
<circle cx="795.7" cy="20.1" r="1.0" fill="#909090"/>
<circle cx="21.1" cy="535.4" r="1.0" fill="#f8f8f8"/>
<circle cx="304.5" cy="600.6" r="0.7" fill="#7a7a7a"/>
<circle cx="986.0" cy="1211.9" r="1.0" fill="#7a7a7a"/>
<circle cx="657.0" cy="143.5" r="0.6" fill="#7a7a7a"/>
<circle cx="949.5" cy="25.0" r="0.5" fill="#f6f6f6"/>
<circle cx="710.1" cy="994.3" r="0.5" fill="#f6f6f6"/>
<circle cx="761.3" cy="669.7" r="0.7" fill="#909090"/>
<circle cx="559.9" cy="451.7" r="1.2" fill="#f6f6f6"/>
<circle cx="728.4" cy="1382.9" r="0.5" fill="#f8f8f8"/>
<circle cx="476.4" cy="1181.2" r="1.2" fill="#c4c4c4"/>
<circle cx="842.9" cy="1421.6" r="0.5" fill="#b5b5b5"/>
<circle cx="789.1" cy="1126.5" r="0.6" fill="#c4c4c4"/>
<circle cx="1188.7" cy="300.0" r="0.7" fill="#f8f8f8"/>
<circle cx="174.3" cy="563.6" r="1.2" fill="#f8f8f8"/>
<circle cx="103.1" cy="239.4" r="1.2" fill="#f6f6f6"/>
<circle cx="749.4" cy="1057.9" r="0.7" fill="#f6f6f6"/>
<circle cx="974.9" cy="1042.0" r="0.5" fill="#b5b5b5"/>
<circle cx="564.5" cy="24.5" r="0.7" fill="#f8f8f8"/>
<circle cx="1076.2" cy="36.4" r="0.7" fill="#b5b5b5"/>
<circle cx="645.0" cy="761.4" r="0.5" fill="#f8f8f8"/>
<circle cx="948.5" cy="431.1" r="1.0" fill="#c4c4c4"/>
<circle cx="152.3" cy="810.1" r="0.6" fill="#f6f6f6"/>
<circle cx="108.9" cy="730.9" r="0.7" fill="#a8a8a8"/>
<circle cx="934.4" cy="353.2" r="0.8" fill="#b5b5b5"/>
<circle cx="68.1" cy="311.7" r="0.8" fill="#909090"/>
<circle cx="671.6" cy="655.7" r="0.5" fill="#f8f8f8"/>
<circle cx="1021.4" cy="222.3" r="1.0" fill="#c4c4c4"/>
<circle cx="211.0" cy="881.4" r="1.2" fill="#7a7a7a"/>
<circle cx="498.2" cy="17.2" r="0.6" fill="#f8f8f8"/>
<circle cx="983.5" cy="1047.1" r="1.2" fill="#b5b5b5"/>
<circle cx="190.6" cy="757.7" r="0.5" fill="#b5b5b5"/>
<circle cx="135.1" cy="430.0" r="1.0" fill="#f6f6f6"/>
<circle cx="916.5" cy="1105.7" r="0.8" fill="#b5b5b5"/>
<circle cx="361.8" cy="307.5" r="1.0" fill="#7a7a7a"/>
<circle cx="790.3" cy="598.5" r="0.8" fill="#909090"/>
<circle cx="786.5" cy="1263.8" r="0.6" fill="#c4c4c4"/>
<circle cx="1178.9" cy="1321.2" r="0.5" fill="#b5b5b5"/>
<circle cx="752.5" cy="382.5" r="1.0" fill="#a8a8a8"/>
<circle cx="266.6" cy="122.2" r="0.8" fill="#b5b5b5"/>
<circle cx="432.5" cy="614.6" r="0.8" fill="#7a7a7a"/>
<circle cx="62.4" cy="1191.1" r="0.5" fill="#909090"/>
<circle cx="635.4" cy="781.2" r="0.8" fill="#f8f8f8"/>
<circle cx="269.8" cy="143.1" r="0.7" fill="#7a7a7a"/>
<circle cx="379.7" cy="690.8" r="0.6" fill="#c4c4c4"/>
<circle cx="900.8" cy="695.6" r="0.5" fill="#a8a8a8"/>
<circle cx="490.1" cy="1377.0" r="0.5" fill="#f6f6f6"/>
<circle cx="713.8" cy="1369.2" r="0.7" fill="#c4c4c4"/>
<circle cx="834.2" cy="1197.4" r="0.6" fill="#c4c4c4"/>
<circle cx="916.7" cy="81.8" r="0.6" fill="#b5b5b5"/>
<circle cx="144.3" cy="1081.3" r="0.7" fill="#7a7a7a"/>
<circle cx="1028.2" cy="305.5" r="1.0" fill="#a8a8a8"/>
<circle cx="970.6" cy="1344.9" r="1.2" fill="#f8f8f8"/>
<circle cx="450.3" cy="129.8" r="1.0" fill="#f6f6f6"/>
<circle cx="119.5" cy="566.5" r="0.6" fill="#f8f8f8"/>
<circle cx="302.9" cy="48.3" r="0.6" fill="#f8f8f8"/>
<circle cx="189.8" cy="408.2" r="0.7" fill="#7a7a7a"/>
<circle cx="1200.7" cy="699.7" r="0.8" fill="#c4c4c4"/>
<circle cx="103.4" cy="199.1" r="0.7" fill="#f6f6f6"/>
<circle cx="862.8" cy="880.0" r="1.2" fill="#f8f8f8"/>
<circle cx="256.4" cy="780.2" r="1.2" fill="#b5b5b5"/>
<circle cx="504.2" cy="969.1" r="0.5" fill="#909090"/>
<circle cx="939.1" cy="628.9" r="0.6" fill="#b5b5b5"/>
<circle cx="909.8" cy="965.6" r="0.5" fill="#b5b5b5"/>
<circle cx="386.3" cy="1047.5" r="0.5" fill="#f8f8f8"/>
<circle cx="141.8" cy="1188.8" r="1.2" fill="#f8f8f8"/>
<circle cx="659.6" cy="163.1" r="0.5" fill="#b5b5b5"/>
<circle cx="374.4" cy="1359.3" r="1.0" fill="#7a7a7a"/>
<circle cx="1107.9" cy="302.5" r="0.8" fill="#a8a8a8"/>
<circle cx="645.5" cy="1196.3" r="0.5" fill="#909090"/>
<circle cx="1049.7" cy="674.2" r="0.5" fill="#b5b5b5"/>
<circle cx="1117.7" cy="287.0" r="1.2" fill="#b5b5b5"/>
<circle cx="594.4" cy="983.3" r="0.8" fill="#c4c4c4"/>
<circle cx="935.7" cy="151.7" r="1.2" fill="#f8f8f8"/>
<circle cx="202.5" cy="835.6" r="0.6" fill="#7a7a7a"/>
<circle cx="417.8" cy="235.2" r="0.7" fill="#b5b5b5"/>
<circle cx="711.5" cy="741.9" r="0.8" fill="#b5b5b5"/>
<circle cx="691.0" cy="1200.6" r="0.7" fill="#f8f8f8"/>
<circle cx="702.4" cy="685.7" r="0.8" fill="#a8a8a8"/>
<circle cx="111.3" cy="698.6" r="1.2" fill="#a8a8a8"/>
<circle cx="423.4" cy="586.6" r="0.5" fill="#a8a8a8"/>
<circle cx="1107.2" cy="1144.2" r="0.7" fill="#b5b5b5"/>
</svg>
</div>

<svg class="abs" style="left:0;top:0" width="1396" height="1800" viewBox="0 0 1396 1800">
<rect x="444" y="165.8" width="767.6" height="400.4" fill="#e8f3e9" stroke="#c4efc4" stroke-width="3.4"/>
<rect x="444" y="165.8" width="767.6" height="400.4" fill="none" stroke="#58a85f" stroke-width="1.5"/>
<polyline points="523,166.5 523,454.5 519.8,454.5 527.7,465.6 523,465.6 523,500 680.7,500 686.7,488.9 699.8,510.4 706.3,500 1126.6,500" fill="none" stroke="#4a554d" stroke-width="1.9" stroke-linejoin="miter" />
<line x1="523" y1="182.2" x2="536" y2="182.2" stroke="#4a554d" stroke-width="1.8"/>
<text x="514" y="188.2" font-size="21.8" text-anchor="end" font-family="Carlito, &apos;Liberation Sans&apos;, sans-serif" fill="#231f20" font-weight="normal" >%5.0</text>
<line x1="523" y1="261.4" x2="536" y2="261.4" stroke="#4a554d" stroke-width="1.8"/>
<text x="514" y="267.4" font-size="21.8" text-anchor="end" font-family="Carlito, &apos;Liberation Sans&apos;, sans-serif" fill="#231f20" font-weight="normal" >4.0</text>
<line x1="523" y1="340.6" x2="536" y2="340.6" stroke="#4a554d" stroke-width="1.8"/>
<text x="514" y="346.6" font-size="21.8" text-anchor="end" font-family="Carlito, &apos;Liberation Sans&apos;, sans-serif" fill="#231f20" font-weight="normal" >3.0</text>
<line x1="523" y1="419.8" x2="536" y2="419.8" stroke="#4a554d" stroke-width="1.8"/>
<text x="514" y="425.8" font-size="21.8" text-anchor="end" font-family="Carlito, &apos;Liberation Sans&apos;, sans-serif" fill="#231f20" font-weight="normal" >2.0</text>
<line x1="558.4" y1="487" x2="558.4" y2="500" stroke="#4a554d" stroke-width="1.8"/>
<text x="559.6" y="521.5" font-size="21.8" text-anchor="middle" font-family="Carlito, &apos;Liberation Sans&apos;, sans-serif" fill="#231f20" font-weight="normal" >1</text>
<line x1="586.3" y1="487" x2="586.3" y2="500" stroke="#4a554d" stroke-width="1.8"/>
<text x="586" y="521.5" font-size="21.8" text-anchor="middle" font-family="Carlito, &apos;Liberation Sans&apos;, sans-serif" fill="#231f20" font-weight="normal" >3</text>
<line x1="613.8" y1="487" x2="613.8" y2="500" stroke="#4a554d" stroke-width="1.8"/>
<text x="614" y="521.5" font-size="21.8" text-anchor="middle" font-family="Carlito, &apos;Liberation Sans&apos;, sans-serif" fill="#231f20" font-weight="normal" >6</text>
<line x1="669.7" y1="487" x2="669.7" y2="500" stroke="#4a554d" stroke-width="1.8"/>
<text x="674" y="521.5" font-size="21.8" text-anchor="middle" font-family="Carlito, &apos;Liberation Sans&apos;, sans-serif" fill="#231f20" font-weight="normal" >12</text>
<line x1="803.7" y1="487" x2="803.7" y2="500" stroke="#4a554d" stroke-width="1.8"/>
<text x="797.5" y="521.5" font-size="21.8" text-anchor="middle" font-family="Carlito, &apos;Liberation Sans&apos;, sans-serif" fill="#231f20" font-weight="normal" >5</text>
<line x1="936.8" y1="487" x2="936.8" y2="500" stroke="#4a554d" stroke-width="1.8"/>
<text x="936.8" y="521.5" font-size="21.8" text-anchor="middle" font-family="Carlito, &apos;Liberation Sans&apos;, sans-serif" fill="#231f20" font-weight="normal" >10</text>
<line x1="1070" y1="487" x2="1070" y2="500" stroke="#4a554d" stroke-width="1.8"/>
<text x="1067.6" y="521.5" font-size="21.8" text-anchor="middle" font-family="Carlito, &apos;Liberation Sans&apos;, sans-serif" fill="#231f20" font-weight="normal" >20</text>
<polyline points="558.9,358.4 587.3,341.5 614.2,329.5 669.2,320.3 802.7,281.4 937.1,267.3 1068.7,235.2" fill="none" stroke="#36a3d6" stroke-width="3.6" stroke-linejoin="miter" />
<text x="556.8" y="377.8" font-size="21.8" text-anchor="middle" font-family="Carlito, &apos;Liberation Sans&apos;, sans-serif" fill="#231f20" font-weight="normal" >2.79</text>
<text x="599.4" y="361.7" font-size="21.8" text-anchor="middle" font-family="Carlito, &apos;Liberation Sans&apos;, sans-serif" fill="#231f20" font-weight="normal" >2.99</text>
<text x="635.6" y="346.5" font-size="21.8" text-anchor="middle" font-family="Carlito, &apos;Liberation Sans&apos;, sans-serif" fill="#231f20" font-weight="normal" >3.12</text>
<text x="680.4" y="340.5" font-size="21.8" text-anchor="middle" font-family="Carlito, &apos;Liberation Sans&apos;, sans-serif" fill="#231f20" font-weight="normal" >3.25</text>
<text x="805.9" y="304.3" font-size="21.8" text-anchor="middle" font-family="Carlito, &apos;Liberation Sans&apos;, sans-serif" fill="#231f20" font-weight="normal" >3.63</text>
<text x="939.6" y="290.3" font-size="21.8" text-anchor="middle" font-family="Carlito, &apos;Liberation Sans&apos;, sans-serif" fill="#231f20" font-weight="normal" >3.91</text>
<text x="1072" y="258" font-size="21.8" text-anchor="middle" font-family="Carlito, &apos;Liberation Sans&apos;, sans-serif" fill="#231f20" font-weight="normal" >4.31</text>
<text x="585" y="542.2" font-size="16" text-anchor="middle" font-family="&apos;Mada&apos;,&apos;Noto Sans Arabic&apos;,&apos;DejaVu Sans&apos;,sans-serif" fill="#231f20" font-weight="700">أشهر</text>
<text x="861.2" y="542" font-size="16.5" text-anchor="middle" font-family="&apos;Mada&apos;,&apos;Noto Sans Arabic&apos;,&apos;DejaVu Sans&apos;,sans-serif" fill="#231f20" font-weight="700" textLength="99.8" lengthAdjust="spacingAndGlyphs">مدة الاستحقاق</text>
<text x="1067" y="542" font-size="16" text-anchor="middle" font-family="&apos;Mada&apos;,&apos;Noto Sans Arabic&apos;,&apos;DejaVu Sans&apos;,sans-serif" fill="#231f20" font-weight="700">سنوات</text>
<rect x="444" y="604.6" width="768.6" height="463.4" fill="#e8f3e9" stroke="#c4efc4" stroke-width="3.4"/>
<rect x="444" y="604.6" width="768.6" height="463.4" fill="none" stroke="#58a85f" stroke-width="1.5"/>
<g opacity="0.27" transform="translate(456.8,816.8) scale(2.755) translate(-11,-4.3)"><text x="100.8" y="35.2" font-family="&apos;Noto Kufi Arabic&apos;,&apos;DejaVu Sans&apos;,sans-serif" font-weight="900" font-size="33.5" fill="#7b8f1d" text-anchor="end" textLength="92.5" lengthAdjust="spacingAndGlyphs">واجب</text><text x="12.9" y="59.8" font-family="Carlito,&apos;Liberation Sans&apos;,sans-serif" font-weight="700" font-size="20.5" fill="#4b5a12" stroke="#4b5a12" stroke-width="0.7" textLength="83.8" lengthAdjust="spacingAndGlyphs">WAJEB.net</text><g transform="translate(100,0) scale(0.06807)"><path d="M105,340 C170,305 260,298 370,300 L672,345 L672,950 C500,860 300,860 105,945 Z" fill="#c6de4a"/><path d="M220,190 C280,176 330,176 370,180 L672,338 L672,950 C560,805 400,770 220,785 Z" fill="#98ae1c"/><path d="M220,190 C280,176 330,176 370,180 L370,300 C300,298 250,300 220,306 Z" fill="#a6be2e"/><path d="M370,75 C500,105 615,210 672,330 L672,700 L370,560 Z" fill="#a6be2e"/><path d="M370,190 C480,210 600,262 672,345 L672,950 C600,765 480,690 370,668 Z" fill="#738713"/><g transform="translate(1382,0) scale(-1,1)"><path d="M105,340 C170,305 260,298 370,300 L672,345 L672,950 C500,860 300,860 105,945 Z" fill="#c6de4a"/><path d="M220,190 C280,176 330,176 370,180 L672,338 L672,950 C560,805 400,770 220,785 Z" fill="#98ae1c"/><path d="M220,190 C280,176 330,176 370,180 L370,300 C300,298 250,300 220,306 Z" fill="#a6be2e"/><path d="M370,75 C500,105 615,210 672,330 L672,700 L370,560 Z" fill="#a6be2e"/><path d="M370,190 C480,210 600,262 672,345 L672,950 C600,765 480,690 370,668 Z" fill="#738713"/></g></g></g>
<polyline points="555,605.5 555,917 551.5,917 559.5,928 555,928 555,953.8 1070.5,953.8" fill="none" stroke="#4a554d" stroke-width="1.9" stroke-linejoin="miter" />
<line x1="555" y1="641.3" x2="567.7" y2="641.3" stroke="#4a554d" stroke-width="1.8"/>
<text x="551" y="648.3" font-size="20.7" text-anchor="end" font-family="Carlito, &apos;Liberation Sans&apos;, sans-serif" fill="#231f20" font-weight="normal" >%15.0</text>
<line x1="555" y1="705.5" x2="567.7" y2="705.5" stroke="#4a554d" stroke-width="1.8"/>
<text x="551" y="712.5" font-size="20.7" text-anchor="end" font-family="Carlito, &apos;Liberation Sans&apos;, sans-serif" fill="#231f20" font-weight="normal" >14.0</text>
<line x1="555" y1="768.7" x2="567.7" y2="768.7" stroke="#4a554d" stroke-width="1.8"/>
<text x="551" y="775.7" font-size="20.7" text-anchor="end" font-family="Carlito, &apos;Liberation Sans&apos;, sans-serif" fill="#231f20" font-weight="normal" >13.0</text>
<line x1="555" y1="830.3" x2="567.7" y2="830.3" stroke="#4a554d" stroke-width="1.8"/>
<text x="551" y="837.3" font-size="20.7" text-anchor="end" font-family="Carlito, &apos;Liberation Sans&apos;, sans-serif" fill="#231f20" font-weight="normal" >12.0</text>
<line x1="555" y1="893.5" x2="567.7" y2="893.5" stroke="#4a554d" stroke-width="1.8"/>
<text x="551" y="900.5" font-size="20.7" text-anchor="end" font-family="Carlito, &apos;Liberation Sans&apos;, sans-serif" fill="#231f20" font-weight="normal" >11.0</text>
<line x1="602.8" y1="942.5" x2="602.8" y2="953.8" stroke="#4a554d" stroke-width="1.8"/>
<line x1="641.1" y1="942.5" x2="641.1" y2="953.8" stroke="#4a554d" stroke-width="1.8"/>
<line x1="679.5" y1="942.5" x2="679.5" y2="953.8" stroke="#4a554d" stroke-width="1.8"/>
<line x1="743.5" y1="942.5" x2="743.5" y2="953.8" stroke="#4a554d" stroke-width="1.8"/>
<line x1="808" y1="942.5" x2="808" y2="953.8" stroke="#4a554d" stroke-width="1.8"/>
<line x1="872" y1="942.5" x2="872" y2="953.8" stroke="#4a554d" stroke-width="1.8"/>
<line x1="936.5" y1="942.5" x2="936.5" y2="953.8" stroke="#4a554d" stroke-width="1.8"/>
<line x1="999.9" y1="942.5" x2="999.9" y2="953.8" stroke="#4a554d" stroke-width="1.8"/>
<text x="602.8" y="984.5" font-size="20.7" text-anchor="middle" font-family="Carlito, &apos;Liberation Sans&apos;, sans-serif" fill="#231f20" font-weight="normal" >3</text>
<text x="641.1" y="984.5" font-size="20.7" text-anchor="middle" font-family="Carlito, &apos;Liberation Sans&apos;, sans-serif" fill="#231f20" font-weight="normal" >6</text>
<text x="679.5" y="984.5" font-size="20.7" text-anchor="middle" font-family="Carlito, &apos;Liberation Sans&apos;, sans-serif" fill="#231f20" font-weight="normal" >12</text>
<text x="678.5" y="1014.5" font-size="20.7" text-anchor="middle" font-family="Carlito, &apos;Liberation Sans&apos;, sans-serif" fill="#231f20" font-weight="normal" >1</text>
<text x="743" y="1014.5" font-size="20.7" text-anchor="middle" font-family="Carlito, &apos;Liberation Sans&apos;, sans-serif" fill="#231f20" font-weight="normal" >2</text>
<text x="807" y="1014.5" font-size="20.7" text-anchor="middle" font-family="Carlito, &apos;Liberation Sans&apos;, sans-serif" fill="#231f20" font-weight="normal" >5</text>
<text x="871" y="1014.5" font-size="20.7" text-anchor="middle" font-family="Carlito, &apos;Liberation Sans&apos;, sans-serif" fill="#231f20" font-weight="normal" >10</text>
<text x="933" y="1014.5" font-size="20.7" text-anchor="middle" font-family="Carlito, &apos;Liberation Sans&apos;, sans-serif" fill="#231f20" font-weight="normal" >30</text>
<text x="997.5" y="1014.5" font-size="20.7" text-anchor="middle" font-family="Carlito, &apos;Liberation Sans&apos;, sans-serif" fill="#231f20" font-weight="normal" >40</text>
<polyline points="603.5,654.8 643.4,702.4 683.8,666.7 748.3,686.5 815.3,717.5 866.9,758 941.2,777.3" fill="none" stroke="#36a3d6" stroke-width="3.6" stroke-linejoin="miter" />
<text x="581.8" y="644.2" font-size="20.7" text-anchor="start" font-family="Carlito, &apos;Liberation Sans&apos;, sans-serif" fill="#231f20" font-weight="normal" >%14.8</text>
<text x="665.8" y="656.9" font-size="20.7" text-anchor="start" font-family="Carlito, &apos;Liberation Sans&apos;, sans-serif" fill="#231f20" font-weight="normal" >%14.7</text>
<text x="937.8" y="771.6" font-size="20.7" text-anchor="start" font-family="Carlito, &apos;Liberation Sans&apos;, sans-serif" fill="#231f20" font-weight="normal" >%12.9</text>
<text x="553.6" y="989" font-size="16" text-anchor="middle" font-family="&apos;Mada&apos;,&apos;Noto Sans Arabic&apos;,&apos;DejaVu Sans&apos;,sans-serif" fill="#231f20" font-weight="500">أشهر</text>
<text x="1056" y="1016" font-size="16" text-anchor="middle" font-family="&apos;Mada&apos;,&apos;Noto Sans Arabic&apos;,&apos;DejaVu Sans&apos;,sans-serif" fill="#231f20" font-weight="500">سنوات</text>
<text x="788" y="1052.3" font-size="16.5" text-anchor="middle" font-family="&apos;Mada&apos;,&apos;Noto Sans Arabic&apos;,&apos;DejaVu Sans&apos;,sans-serif" fill="#231f20" font-weight="700" textLength="98.3" lengthAdjust="spacingAndGlyphs">مدة الاستحقاق</text>
<rect x="440.3" y="1107.6" width="767.4" height="436" fill="#e8f3e9" stroke="#c4efc4" stroke-width="3.4"/>
<rect x="440.3" y="1107.6" width="767.4" height="436" fill="none" stroke="#58a85f" stroke-width="1.5"/>
<polyline points="545.3,1108.5 545.3,1403.4 542.5,1403.4 549.6,1414.8 545.3,1414.8 545.3,1449.8 731.3,1449.8 737.9,1438.6 750.8,1460 756.5,1449.8 1116.7,1449.8" fill="none" stroke="#4a554d" stroke-width="1.9" stroke-linejoin="miter" />
<line x1="532.4" y1="1128" x2="545.3" y2="1128" stroke="#4a554d" stroke-width="1.8"/>
<text x="523.5" y="1132.6" font-size="21" text-anchor="end" font-family="Carlito, &apos;Liberation Sans&apos;, sans-serif" fill="#231f20" font-weight="normal" >%5.0</text>
<line x1="532.4" y1="1193.4" x2="545.3" y2="1193.4" stroke="#4a554d" stroke-width="1.8"/>
<text x="523.5" y="1198.0" font-size="21" text-anchor="end" font-family="Carlito, &apos;Liberation Sans&apos;, sans-serif" fill="#231f20" font-weight="normal" >4.0</text>
<line x1="532.4" y1="1258.7" x2="545.3" y2="1258.7" stroke="#4a554d" stroke-width="1.8"/>
<text x="523.5" y="1263.3" font-size="21" text-anchor="end" font-family="Carlito, &apos;Liberation Sans&apos;, sans-serif" fill="#231f20" font-weight="normal" >3.0</text>
<line x1="532.4" y1="1322.3" x2="545.3" y2="1322.3" stroke="#4a554d" stroke-width="1.8"/>
<text x="523.5" y="1326.8999999999999" font-size="21" text-anchor="end" font-family="Carlito, &apos;Liberation Sans&apos;, sans-serif" fill="#231f20" font-weight="normal" >2.0</text>
<line x1="532.4" y1="1386.2" x2="545.3" y2="1386.2" stroke="#4a554d" stroke-width="1.8"/>
<text x="523.5" y="1390.8" font-size="21" text-anchor="end" font-family="Carlito, &apos;Liberation Sans&apos;, sans-serif" fill="#231f20" font-weight="normal" >1.0</text>
<line x1="583.7" y1="1436.3" x2="583.7" y2="1449.8" stroke="#4a554d" stroke-width="1.8"/>
<text x="583.7" y="1482" font-size="21.5" text-anchor="middle" font-family="Carlito, &apos;Liberation Sans&apos;, sans-serif" fill="#231f20" font-weight="normal" >1</text>
<line x1="620.7" y1="1436.3" x2="620.7" y2="1449.8" stroke="#4a554d" stroke-width="1.8"/>
<text x="620.7" y="1482" font-size="21.5" text-anchor="middle" font-family="Carlito, &apos;Liberation Sans&apos;, sans-serif" fill="#231f20" font-weight="normal" >3</text>
<line x1="660.5" y1="1436.3" x2="660.5" y2="1449.8" stroke="#4a554d" stroke-width="1.8"/>
<text x="660.5" y="1482" font-size="21.5" text-anchor="middle" font-family="Carlito, &apos;Liberation Sans&apos;, sans-serif" fill="#231f20" font-weight="normal" >6</text>
<line x1="700" y1="1436.3" x2="700" y2="1449.8" stroke="#4a554d" stroke-width="1.8"/>
<text x="700" y="1482" font-size="21.5" text-anchor="middle" font-family="Carlito, &apos;Liberation Sans&apos;, sans-serif" fill="#231f20" font-weight="normal" >12</text>
<line x1="765.4" y1="1436.3" x2="765.4" y2="1449.8" stroke="#4a554d" stroke-width="1.8"/>
<text x="765.4" y="1482" font-size="21.5" text-anchor="middle" font-family="Carlito, &apos;Liberation Sans&apos;, sans-serif" fill="#231f20" font-weight="normal" >2</text>
<line x1="831.9" y1="1436.3" x2="831.9" y2="1449.8" stroke="#4a554d" stroke-width="1.8"/>
<text x="831.9" y="1482" font-size="21.5" text-anchor="middle" font-family="Carlito, &apos;Liberation Sans&apos;, sans-serif" fill="#231f20" font-weight="normal" >3</text>
<line x1="897.6" y1="1436.3" x2="897.6" y2="1449.8" stroke="#4a554d" stroke-width="1.8"/>
<text x="897.6" y="1482" font-size="21.5" text-anchor="middle" font-family="Carlito, &apos;Liberation Sans&apos;, sans-serif" fill="#231f20" font-weight="normal" >4</text>
<line x1="963.4" y1="1436.3" x2="963.4" y2="1449.8" stroke="#4a554d" stroke-width="1.8"/>
<text x="963.4" y="1482" font-size="21.5" text-anchor="middle" font-family="Carlito, &apos;Liberation Sans&apos;, sans-serif" fill="#231f20" font-weight="normal" >5</text>
<line x1="1029.3" y1="1436.3" x2="1029.3" y2="1449.8" stroke="#4a554d" stroke-width="1.8"/>
<text x="1029.3" y="1482" font-size="21.5" text-anchor="middle" font-family="Carlito, &apos;Liberation Sans&apos;, sans-serif" fill="#231f20" font-weight="normal" >6</text>
<line x1="1094.6" y1="1436.3" x2="1094.6" y2="1449.8" stroke="#4a554d" stroke-width="1.8"/>
<text x="1094.6" y="1482" font-size="21.5" text-anchor="middle" font-family="Carlito, &apos;Liberation Sans&apos;, sans-serif" fill="#231f20" font-weight="normal" >7</text>
<polyline points="573.7,1254.9 658.2,1285.3 742.2,1274.4 831,1270.7 905.7,1296.8 1004.3,1288 1100.9,1294" fill="none" stroke="#36a3d6" stroke-width="3.6" stroke-linejoin="miter" />
<text x="567" y="1521.5" font-size="16.5" text-anchor="middle" font-family="&apos;Mada&apos;,&apos;Noto Sans Arabic&apos;,&apos;DejaVu Sans&apos;,sans-serif" fill="#231f20" font-weight="700">أشهر</text>
<text x="794.3" y="1521.5" font-size="16.5" text-anchor="middle" font-family="&apos;Mada&apos;,&apos;Noto Sans Arabic&apos;,&apos;DejaVu Sans&apos;,sans-serif" fill="#231f20" font-weight="700" textLength="101.9" lengthAdjust="spacingAndGlyphs">مدة الاستحقاق</text>
<text x="1082.5" y="1521.5" font-size="16.5" text-anchor="middle" font-family="&apos;Mada&apos;,&apos;Noto Sans Arabic&apos;,&apos;DejaVu Sans&apos;,sans-serif" fill="#231f20" font-weight="700">سنوات</text>
<text x="100.8" y="35.2" font-family="&apos;Noto Kufi Arabic&apos;,&apos;DejaVu Sans&apos;,sans-serif" font-weight="900" font-size="33.5" fill="#7b8f1d" text-anchor="end" textLength="92.5" lengthAdjust="spacingAndGlyphs">واجب</text><text x="12.9" y="59.8" font-family="Carlito,&apos;Liberation Sans&apos;,sans-serif" font-weight="700" font-size="20.5" fill="#4b5a12" stroke="#4b5a12" stroke-width="0.7" textLength="83.8" lengthAdjust="spacingAndGlyphs">WAJEB.net</text><g transform="translate(100,0) scale(0.06807)"><path d="M105,340 C170,305 260,298 370,300 L672,345 L672,950 C500,860 300,860 105,945 Z" fill="#c6de4a"/><path d="M220,190 C280,176 330,176 370,180 L672,338 L672,950 C560,805 400,770 220,785 Z" fill="#98ae1c"/><path d="M220,190 C280,176 330,176 370,180 L370,300 C300,298 250,300 220,306 Z" fill="#a6be2e"/><path d="M370,75 C500,105 615,210 672,330 L672,700 L370,560 Z" fill="#a6be2e"/><path d="M370,190 C480,210 600,262 672,345 L672,950 C600,765 480,690 370,668 Z" fill="#738713"/><g transform="translate(1382,0) scale(-1,1)"><path d="M105,340 C170,305 260,298 370,300 L672,345 L672,950 C500,860 300,860 105,945 Z" fill="#c6de4a"/><path d="M220,190 C280,176 330,176 370,180 L672,338 L672,950 C560,805 400,770 220,785 Z" fill="#98ae1c"/><path d="M220,190 C280,176 330,176 370,180 L370,300 C300,298 250,300 220,306 Z" fill="#a6be2e"/><path d="M370,75 C500,105 615,210 672,330 L672,700 L370,560 Z" fill="#a6be2e"/><path d="M370,190 C480,210 600,262 672,345 L672,950 C600,765 480,690 370,668 Z" fill="#738713"/></g></g>
<circle cx="85.3" cy="1587.2" r="5.4" fill="#8fcdbd"/>
<circle cx="99.2" cy="1589.2" r="4.9" fill="#8fcdbd"/>
<circle cx="113" cy="1591.8" r="4.9" fill="#8fcdbd"/>
<circle cx="126.3" cy="1595.2" r="4.3" fill="#8fcdbd"/>
<circle cx="139.2" cy="1600.1" r="3.2" fill="#8fcdbd"/>
<circle cx="84.7" cy="1604" r="4.8" fill="#8fcdbd"/>
<circle cx="99.2" cy="1604.4" r="4.3" fill="#8fcdbd"/>
<circle cx="113.7" cy="1607" r="4.0" fill="#8fcdbd"/>
<circle cx="127.2" cy="1611.1" r="3.5" fill="#8fcdbd"/>
<circle cx="139.5" cy="1616.9" r="2.6" fill="#8fcdbd"/>
<circle cx="84.3" cy="1619.1" r="4.3" fill="#8fcdbd"/>
<circle cx="100.1" cy="1619.5" r="4.1" fill="#8fcdbd"/>
<circle cx="115.6" cy="1622.4" r="3.2" fill="#8fcdbd"/>
<circle cx="130" cy="1627.9" r="2.2" fill="#8fcdbd"/>
<circle cx="174" cy="1606.6" r="2.6" fill="#8fcdbd"/>
<circle cx="162.4" cy="1615.2" r="2.4" fill="#8fcdbd"/>
<circle cx="185.2" cy="1616.5" r="2.8" fill="#8fcdbd"/>
<circle cx="152" cy="1624.6" r="2.3" fill="#8fcdbd"/>
<circle cx="173.2" cy="1624" r="2.3" fill="#8fcdbd"/>
<circle cx="195.6" cy="1627.6" r="2.2" fill="#8fcdbd"/>
<circle cx="186.9" cy="1598.5" r="2.6" fill="#8fcdbd"/>
<circle cx="199" cy="1609.6" r="2.6" fill="#8fcdbd"/>
<circle cx="163" cy="1633.7" r="2.0" fill="#8fcdbd"/>
<circle cx="199" cy="1594.6" r="3.9" fill="#8fcdbd"/>
<circle cx="212.3" cy="1591.1" r="4.8" fill="#8fcdbd"/>
<circle cx="226.1" cy="1588.9" r="4.9" fill="#8fcdbd"/>
<circle cx="239.8" cy="1587.2" r="5.2" fill="#8fcdbd"/>
<circle cx="211.9" cy="1606.6" r="3.9" fill="#8fcdbd"/>
<circle cx="225.8" cy="1604" r="4.3" fill="#8fcdbd"/>
<circle cx="240.4" cy="1603.6" r="4.5" fill="#8fcdbd"/>
<circle cx="209.7" cy="1622.1" r="3.2" fill="#8fcdbd"/>
<circle cx="225.8" cy="1618.8" r="4.0" fill="#8fcdbd"/>
<circle cx="240.7" cy="1618.8" r="4.3" fill="#8fcdbd"/>
<circle cx="171.7" cy="1628.3" r="30.3" fill="none" stroke="#6fba6f" stroke-width="3.9" opacity="0.95"/>
<text x="158.2" y="1637.6" font-size="25" font-weight="700" font-family="Carlito, &apos;Liberation Sans&apos;, sans-serif" fill="#1a1a1a" textLength="27" lengthAdjust="spacingAndGlyphs">55</text>
<text x="244" y="1679" font-size="23.5" font-weight="400" text-anchor="end" font-family="&apos;Noto Kufi Arabic&apos;,&apos;DejaVu Sans&apos;,sans-serif" fill="#93c8bc" textLength="165.7" lengthAdjust="spacingAndGlyphs">وزارة التـعـــلـيم</text>
<text x="78.2" y="1703.5" font-size="15.5" font-weight="400" font-family="&apos;Tajawal&apos;,&apos;Liberation Sans&apos;,sans-serif" fill="#a6c5c0" textLength="166" lengthAdjust="spacingAndGlyphs">Ministry of Education</text>
<text x="78.2" y="1724" font-size="15" font-weight="400" font-family="&apos;Tajawal&apos;,&apos;Liberation Sans&apos;,sans-serif" fill="#a9c4bf" textLength="75.7" lengthAdjust="spacingAndGlyphs">2025 - 1447</text>
</svg>

<!-- captions -->
<div class="abs" style="left:0;top:0;width:414px;height:1300px;">
  <div class="cap capt" style="top:150px">الشكل 4.2</div>
  <div class="cap capb" style="top:184px">مثال على منحنى العائد بمنحدر<br>إيجابي</div>
  <div class="cap capt" style="top:603px">الشكل 5.2</div>
  <div class="cap capb" style="top:641px">مثال على منحنى العائد بمنحدر سلبي</div>
  <div class="cap capt" style="top:1105px;right:2px">الشكل 6.2</div>
  <div class="cap capb" style="top:1146px;right:2px">مثال على منحنى العائد بمنحدر<br>مسطّح</div>
</div>

<!-- footer title -->
<div class="foot" style="right:688px;top:1616px;font-size:27.5px;font-weight:500;color:#86c486"><span>الفصل</span> <b style="color:#6db36d">2</b></div>
<div class="foot" style="right:782.5px;top:1616px;font-size:27.5px;font-weight:500;color:#231f20">دور الأسواق الماليّة والوسطاء الماليين</div>

</body></html>
